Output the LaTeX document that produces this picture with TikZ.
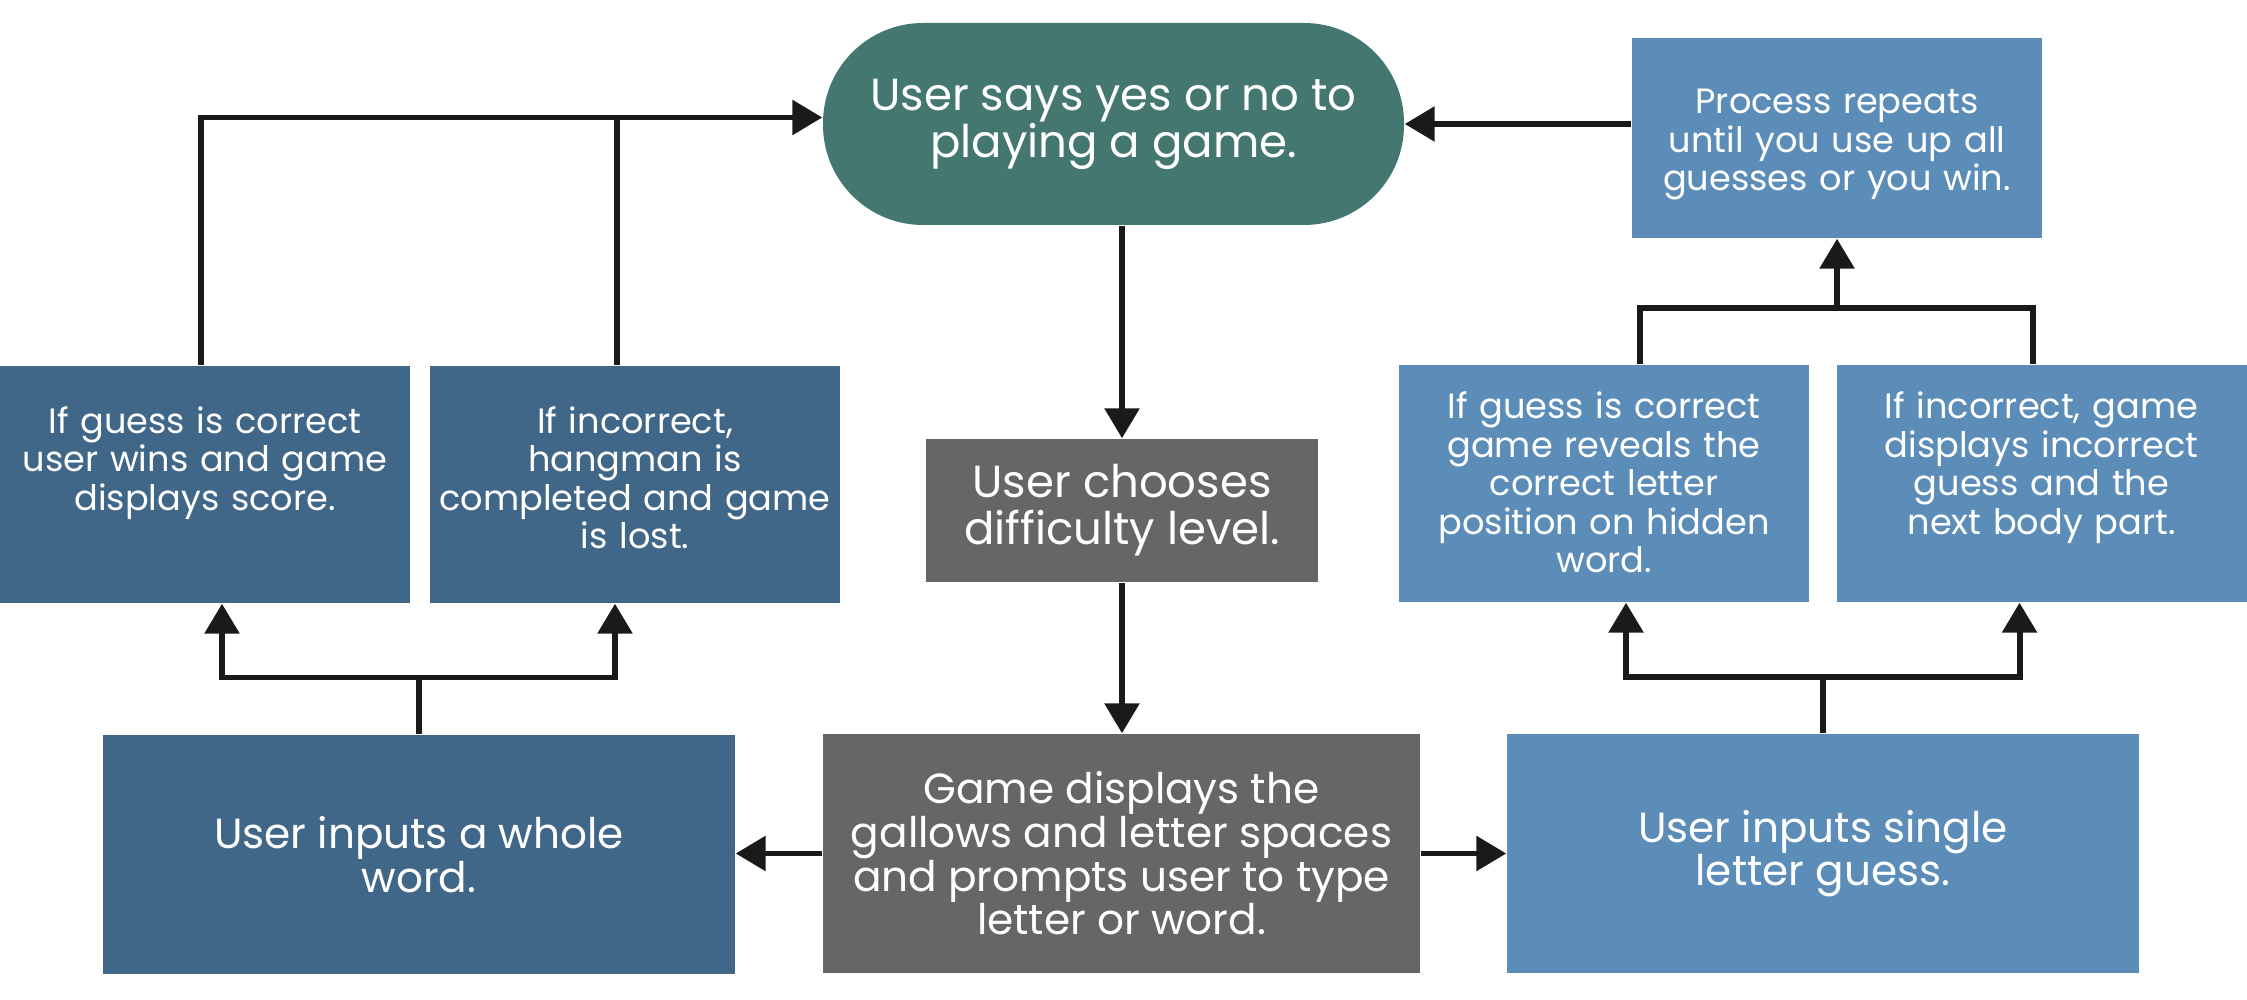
\documentclass[tikz,border=0pt]{standalone}
\usepackage{fontspec}
\setmainfont{Poppins}
\usepackage{tikz}
\usetikzlibrary{arrows.meta}

\definecolor{termteal}{HTML}{43776F}
\definecolor{darkblue}{HTML}{406788}
\definecolor{lightblue}{HTML}{5B8DB8}
\definecolor{boxgray}{HTML}{666666}
\definecolor{wireblack}{HTML}{1A1A1A}

\tikzset{
  box/.style={inner sep=0pt, text=white, align=center},
  bigtext/.style={font=\fontsize{12.8}{13.4}\selectfont},
  midtext/.style={font=\fontsize{12}{12.4}\selectfont},
  smalltext/.style={font=\fontsize{10}{10.95}\selectfont},
  leftbox/.style={box, smalltext, fill=darkblue, text width=4.1cm, text height=0.675cm, text depth=1.695cm},
  rightbox/.style={box, smalltext, fill=lightblue, text width=4.1cm, text height=0.54cm, text depth=1.83cm},
  wire/.style={draw=wireblack, line width=1.7pt},
  wirearrow/.style={wire, -{Triangle[length=0.3cm,width=0.34cm]}}
}

\begin{document}
\begin{tikzpicture}
			%%%%% START %%%%%
			\useasboundingbox (0,0) rectangle (22.47,-10);
			
			\node[box, bigtext, fill=termteal, rounded corners=1cm, minimum width=5.81cm, minimum height=2.02cm] (term) at (11.135,-1.24) {User says yes or no to\\playing a game.};
			\node[box, smalltext, fill=lightblue, text width=4.1cm, text height=0.76cm, text depth=1.24cm] (proc) at (18.37,-1.38) {Process repeats\\until you use up all\\guesses or you win.};
			\node[box, bigtext, fill=boxgray, minimum width=3.92cm, minimum height=1.43cm] (choose) at (11.22,-5.105) {User chooses\\difficulty level.};
			\node[box, midtext, fill=boxgray, minimum width=5.97cm, minimum height=2.39cm] (game) at (11.215,-8.535) {Game displays the\\gallows and letter spaces\\and prompts user to type\\letter or word.};
			\node[box, midtext, fill=darkblue, minimum width=6.32cm, minimum height=2.39cm] (word) at (4.19,-8.545) {User inputs a whole\\word.};
			\node[box, midtext, fill=lightblue, minimum width=6.32cm, minimum height=2.39cm] (letter) at (18.23,-8.535) {User inputs single\\letter guess.};
			
			\node[leftbox] (winL) at (2.05,-4.845) {If guess is correct\\user wins and game\\displays score.};
			\node[leftbox] (lostL) at (6.35,-4.845) {If incorrect,\\hangman is\\completed and game\\is lost.};
			\node[rightbox] (revealR) at (16.04,-4.835) {If guess is correct\\game reveals the\\correct letter\\position on hidden\\word.};
			\node[rightbox] (wrongR) at (20.415,-4.835) {If incorrect, game\\displays incorrect\\guess and the\\next body part.};
			
			% back to the start
			\coordinate (loopL) at ([yshift=0.065cm]term.west);
			\draw[wirearrow] ([xshift=-0.04cm]winL.north) |- (loopL);
			\draw[wire] ([xshift=-0.18cm]lostL.north) -- ([xshift=-0.18cm]lostL.north |- loopL);
			\draw[wirearrow] (term.east -| proc.west) -- (term.east);
			
			\draw[wirearrow] (choose.north |- term.south) -- (choose.north);
			\draw[wirearrow] (choose.south) -- (choose.south |- game.north);
			\draw[wirearrow] (game.west) -- (game.west -| word.east);
			\draw[wirearrow] (game.east) -- (game.east -| letter.west);
			
			\coordinate (forkBL) at (4.19,-6.775);
			\draw[wire] (word.north) -- (forkBL);
			\draw[wirearrow] (forkBL) -| ([xshift=0.17cm]winL.south);
			\draw[wirearrow] (forkBL) -| ([xshift=-0.2cm]lostL.south);
			
			\coordinate (forkBR) at (18.23,-6.77);
			\draw[wire] (letter.north) -- (forkBR);
			\draw[wirearrow] (forkBR) -| ([xshift=0.22cm]revealR.south);
			\draw[wirearrow] (forkBR) -| ([xshift=-0.22cm]wrongR.south);
			
			\coordinate (forkTR) at (18.37,-3.076);
			\draw[wire] ([xshift=0.36cm]revealR.north) |- (forkTR) -| ([xshift=-0.085cm]wrongR.north);
			\draw[wirearrow] (forkTR) -- (proc.south);
			
			%%%%% END %%%%%
		\end{tikzpicture}
\end{document}
